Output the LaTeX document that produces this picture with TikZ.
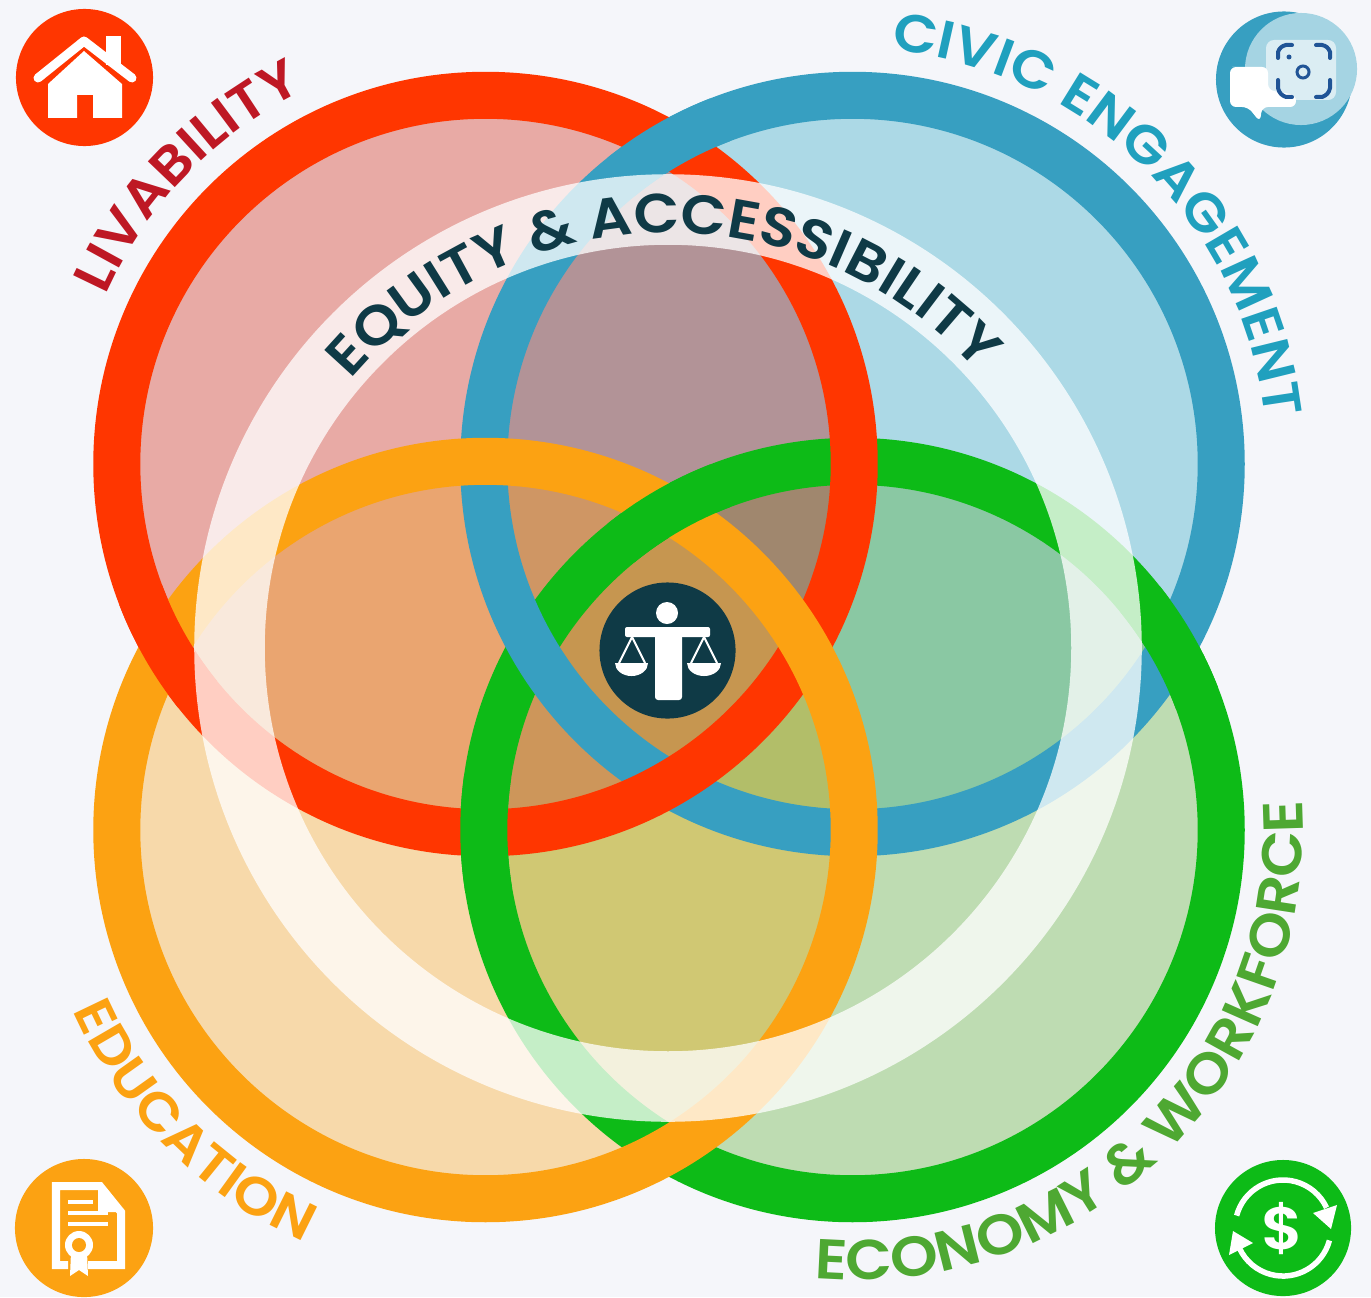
\documentclass[tikz,border=0pt]{standalone}
\usepackage{fontspec}
\newfontfamily\arcfont{Poppins SemiBold}[FakeStretch=1.08]
\usetikzlibrary{decorations.text}

\definecolor{pagebg}{RGB}{245,246,250}
\definecolor{ringred}{RGB}{255,54,0}
\definecolor{ringblue}{RGB}{55,159,193}
\definecolor{ringorange}{RGB}{252,162,18}
\definecolor{ringgreen}{RGB}{13,187,23}
\definecolor{textred}{RGB}{190,24,36}
\definecolor{textblue}{RGB}{32,160,190}
\definecolor{textgreen}{RGB}{78,168,50}
\definecolor{textdark}{RGB}{15,58,70}
\definecolor{camblue}{RGB}{32,84,150}
\definecolor{zr}{RGB}{232,170,165}
\definecolor{zb}{RGB}{172,217,230}
\definecolor{zo}{RGB}{247,217,170}
\definecolor{zg}{RGB}{190,220,178}
\definecolor{zrb}{RGB}{178,147,151}
\definecolor{zro}{RGB}{234,165,112}
\definecolor{zbg}{RGB}{138,200,163}
\definecolor{zog}{RGB}{208,200,115}
\definecolor{zrbo}{RGB}{207,150,100}
\definecolor{zrbg}{RGB}{160,135,110}
\definecolor{zrog}{RGB}{205,150,90}
\definecolor{zbog}{RGB}{178,190,105}
\definecolor{zall}{RGB}{198,150,80}

\tikzset{
	ring/.style = {line width = 0.47cm, draw = #1},
	iconline/.style = {draw = white, line width = 0.09cm, line cap = round, line join = round},
	camline/.style = {draw = camblue, line width = 0.04cm, line cap = round},
}

\newcommand{\bigarc}{\arcfont\fontsize{15.7pt}{18pt}\selectfont}
\newcommand{\midarc}{\arcfont\fontsize{16pt}{18pt}\selectfont}
\newcommand{\smallarc}{\arcfont\fontsize{15.2pt}{17pt}\selectfont}

% zones of the discs, the bands hide their edges
\newcommand{\zonetwo}[3]{
	\begin{scope}
		\clip (#1) circle (3.6cm);
		\fill[#3] (#2) circle (3.6cm);
	\end{scope}
}
\newcommand{\zonethree}[4]{
	\begin{scope}
		\clip (#1) circle (3.6cm);
		\clip (#2) circle (3.6cm);
		\fill[#4] (#3) circle (3.6cm);
	\end{scope}
}
% piece of a ring laid back over the others
\newcommand{\crossover}[3]{
	\begin{scope}
		\clip #3 circle (0.62cm);
		\draw[ring = #1] (#2) circle (3.685cm);
	\end{scope}
}
% centre, radius, start, end, colour, font, text
\newcommand{\arclabel}[7]{
	\path[decorate, decoration = {text along path, text align = center, text color = #5,
		text = {|#6|#7}}]
		([shift = {(#3:#2)}]#1) arc[start angle = #3, end angle = #4, radius = #2];
}

\begin{document}
\begin{tikzpicture}[x=0.01cm, y=-0.01cm]
	\fill[pagebg] (0,0) rectangle (1371,1297);
	\useasboundingbox (0,0) rectangle (1371,1297);

	\coordinate (red_c) at (485.5,464);
	\coordinate (blue_c) at (852.5,464);
	\coordinate (orange_c) at (485.5,830);
	\coordinate (green_c) at (852.5,830);
	\coordinate (mid_c) at (668,648);

	\fill[zr] (red_c) circle (3.6cm);
	\fill[zb] (blue_c) circle (3.6cm);
	\fill[zo] (orange_c) circle (3.6cm);
	\fill[zg] (green_c) circle (3.6cm);

	\zonetwo{red_c}{blue_c}{zrb}
	\zonetwo{red_c}{orange_c}{zro}
	\zonetwo{blue_c}{green_c}{zbg}
	\zonetwo{orange_c}{green_c}{zog}

	\zonethree{red_c}{blue_c}{orange_c}{zrbo}
	\zonethree{red_c}{blue_c}{green_c}{zrbg}
	\zonethree{red_c}{orange_c}{green_c}{zrog}
	\zonethree{blue_c}{orange_c}{green_c}{zbog}
	\begin{scope}
		\clip (red_c) circle (3.6cm);
		\clip (blue_c) circle (3.6cm);
		\clip (orange_c) circle (3.6cm);
		\fill[zall] (green_c) circle (3.6cm);
	\end{scope}

	\draw[ring = ringgreen] (green_c) circle (3.685cm);
	\draw[ring = ringblue] (blue_c) circle (3.685cm);
	\draw[ring = ringred] (red_c) circle (3.685cm);
	\draw[ring = ringorange] (orange_c) circle (3.685cm);

	\crossover{ringgreen}{green_c}{(1172,647)}
	\crossover{ringgreen}{green_c}{(482,833)}
	\crossover{ringgreen}{green_c}{(668,510)}
	\crossover{ringblue}{blue_c}{(668,144)}
	\crossover{ringred}{red_c}{(165,647)}

	% pale band of the middle
	\fill[white, opacity = 0.76, even odd rule] (mid_c) circle (4.735cm) (mid_c) circle (4.03cm);

	\arclabel{mid_c}{4.15cm}{138.5}{43}{textdark}{\bigarc}{EQUITY {\&} ACCESSIBILITY}
	\arclabel{red_c}{4.15cm}{156}{116}{textred}{\smallarc}{LIVABILITY}
	\arclabel{blue_c}{4.15cm}{83}{8}{textblue}{\smallarc}{CIVIC ENGAGEMENT}
	\arclabel{orange_c}{4.5cm}{203}{247}{ringorange}{\smallarc}{EDUCATION}
	\arclabel{green_c}{4.5cm}{265}{364}{textgreen}{\midarc}{ECONOMY {\&} WORKFORCE}

	% house
	\fill[ringred] (84.5,77.5) circle (0.685cm);
	\fill[white] (48,118) -- (48,84) -- (84,51) -- (122,84) -- (122,118) -- (93,118) -- (93,95) -- (77,95) -- (77,118) -- cycle;
	\fill[white] (106,36) rectangle (121,65);
	\draw[iconline] (38,78) -- (84,41) -- (132,78);

	% camera and speech bubble
	\fill[ringblue] (1284,79.5) circle (0.68cm);
	\fill[white!55!ringblue] (1301,69) circle (0.56cm);
	\fill[white, rounded corners = 0.06cm] (1238,67) -- (1268,67) -- (1268,90) -- (1296,95) -- (1296,107) -- (1262,107) -- (1260,122) -- (1248,107) -- (1230,107) -- (1230,67) -- cycle;
	\fill[white, opacity = 0.6, rounded corners = 0.08cm] (1266,40) rectangle (1336,100);
	\draw[camline] (1278,58) -- (1278,52) to[bend left = 30] (1286,45) -- (1292,45);
	\draw[camline] (1316,45) -- (1322,45) to[bend left = 30] (1330,52) -- (1330,58);
	\draw[camline] (1330,80) -- (1330,88) to[bend left = 30] (1322,97) -- (1316,97);
	\draw[camline] (1292,97) -- (1286,97) to[bend left = 30] (1278,88) -- (1278,80);
	\draw[camblue, line width = 0.03cm] (1303,72) circle (0.06cm);
	\fill[camblue] (1289,57) circle (0.025cm);

	% certificate
	\fill[ringorange] (84,1228) circle (0.69cm);
	\draw[white, line width = 0.08cm] (68,1265) -- (56,1265) -- (56,1186) -- (100,1186) -- (121,1212) -- (121,1265) -- (88,1265);
	\fill[white] (98,1184) -- (125,1212) -- (98,1212) -- cycle;
	\draw[white, line width = 0.04cm] (68,1202) -- (93,1202) (68,1213) -- (108,1213) (68,1224) -- (108,1224);
	\fill[white] (71,1252) -- (70,1276) -- (79,1270) -- (88,1276) -- (87,1252) -- cycle;
	\fill[white] (79,1245) circle (0.14cm);
	\fill[ringorange] (79,1245) circle (0.07cm);

	% dollar with arrows
	\fill[ringgreen] (1283,1228) circle (0.68cm);
	\draw[white, line width = 0.055cm] ([shift = {(165:0.48cm)}]1283,1228) arc[start angle = 165, end angle = 25, radius = 0.48cm];
	\draw[white, line width = 0.055cm] ([shift = {(-15:0.48cm)}]1283,1228) arc[start angle = -15, end angle = -155, radius = 0.48cm];
	\fill[white] (1313,1213) -- (1337,1205) -- (1331,1229) -- cycle;
	\fill[white] (1253,1243) -- (1229,1255) -- (1233,1231) -- cycle;
	\node[white, font = \arcfont\fontsize{17pt}{18pt}\selectfont, inner sep = 0] (dollar) at (1283,1229) {\$};

	% scales
	\fill[textdark] (667.5,650.5) circle (0.68cm);
	\fill[white] (667,613) circle (0.11cm);
	\fill[white, rounded corners = 0.02cm] (625,627) rectangle (710,637);
	\fill[white, rounded corners = 0.03cm] (655,632) rectangle (682,700);
	\draw[white, line width = 0.02cm] (619,663) -- (632,637) -- (645,663);
	\draw[white, line width = 0.02cm] (691,663) -- (704,637) -- (717,663);
	\fill[white] (615,663) arc[start angle = 180, end angle = 360, x radius = 0.165cm, y radius = 0.13cm] -- cycle;
	\fill[white] (687,663) arc[start angle = 180, end angle = 360, x radius = 0.17cm, y radius = 0.13cm] -- cycle;
\end{tikzpicture}
\end{document}
